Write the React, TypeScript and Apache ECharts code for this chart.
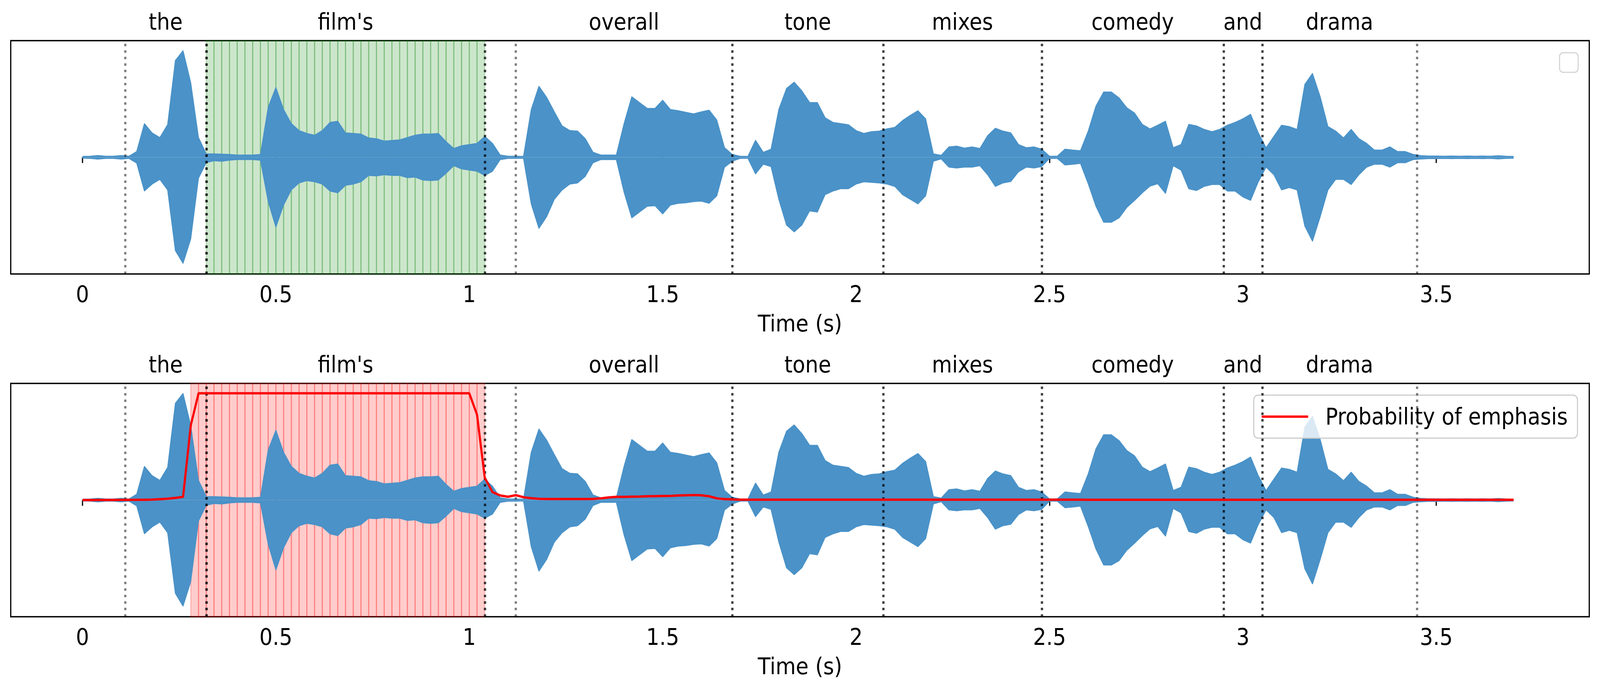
import React, { useEffect, useRef } from "react";
import * as echarts from "echarts";

// ---------- data ----------
const STEP = 0.02; // frame hop (s)

// waveform envelope, one value per 0.02 s frame starting at t = 0
const UPPER = [
  0.008, 0.010, 0.016, 0.010, 0.010, 0.016, 0.010, 0.050, 0.290, 0.210,
  0.170, 0.280, 0.830, 0.915, 0.640, 0.170, 0.030, 0.030, 0.028, 0.025,
  0.020, 0.020, 0.020, 0.025, 0.430, 0.600, 0.410, 0.290, 0.230, 0.205,
  0.190, 0.230, 0.300, 0.310, 0.210, 0.205, 0.200, 0.167, 0.160, 0.140,
  0.145, 0.150, 0.170, 0.190, 0.200, 0.200, 0.205, 0.135, 0.076, 0.100,
  0.110, 0.120, 0.180, 0.120, 0.020, 0.010, 0.010, 0.008, 0.410, 0.610,
  0.515, 0.390, 0.270, 0.230, 0.225, 0.160, 0.044, 0.020, 0.020, 0.020,
  0.290, 0.520, 0.470, 0.420, 0.420, 0.490, 0.410, 0.400, 0.386, 0.373,
  0.390, 0.405, 0.320, 0.083, 0.025, 0.010, 0.008, 0.147, 0.044, 0.070,
  0.410, 0.590, 0.645, 0.570, 0.470, 0.470, 0.340, 0.300, 0.290, 0.280,
  0.230, 0.205, 0.220, 0.225, 0.245, 0.257, 0.315, 0.360, 0.400, 0.330,
  0.030, 0.018, 0.090, 0.096, 0.080, 0.090, 0.076, 0.186, 0.250, 0.225,
  0.210, 0.110, 0.083, 0.090, 0.070, 0.010, 0.010, 0.070, 0.063, 0.057,
  0.225, 0.440, 0.560, 0.560, 0.510, 0.425, 0.380, 0.283, 0.244, 0.276,
  0.310, 0.083, 0.110, 0.283, 0.270, 0.240, 0.220, 0.240, 0.276, 0.300,
  0.330, 0.370, 0.210, 0.083, 0.180, 0.276, 0.264, 0.240, 0.625, 0.720,
  0.520, 0.264, 0.225, 0.167, 0.240, 0.160, 0.120, 0.063, 0.063, 0.090,
  0.050, 0.050, 0.025, 0.015, 0.012, 0.012, 0.010, 0.012, 0.010, 0.012,
  0.010, 0.012, 0.010, 0.014, 0.010, 0.008,
];
const LOWER = [
  -0.008, -0.010, -0.016, -0.010, -0.010, -0.016, -0.010, -0.050, -0.290, -0.230,
  -0.190, -0.280, -0.800, -0.910, -0.700, -0.180, -0.045, -0.030, -0.034, -0.025,
  -0.020, -0.020, -0.020, -0.025, -0.380, -0.600, -0.410, -0.280, -0.220, -0.200,
  -0.210, -0.230, -0.290, -0.305, -0.240, -0.230, -0.210, -0.156, -0.160, -0.150,
  -0.156, -0.156, -0.175, -0.170, -0.195, -0.200, -0.195, -0.137, -0.072, -0.100,
  -0.110, -0.120, -0.156, -0.120, -0.020, -0.010, -0.010, -0.008, -0.400, -0.610,
  -0.510, -0.360, -0.280, -0.230, -0.220, -0.163, -0.047, -0.020, -0.020, -0.020,
  -0.300, -0.520, -0.470, -0.420, -0.415, -0.486, -0.410, -0.395, -0.390, -0.380,
  -0.376, -0.395, -0.330, -0.085, -0.034, -0.010, -0.008, -0.143, -0.060, -0.080,
  -0.360, -0.580, -0.640, -0.580, -0.460, -0.470, -0.320, -0.290, -0.270, -0.270,
  -0.230, -0.210, -0.215, -0.220, -0.230, -0.250, -0.320, -0.360, -0.400, -0.330,
  -0.034, -0.014, -0.085, -0.092, -0.085, -0.085, -0.072, -0.150, -0.250, -0.220,
  -0.208, -0.124, -0.085, -0.092, -0.080, -0.010, -0.010, -0.066, -0.060, -0.053,
  -0.227, -0.420, -0.557, -0.557, -0.520, -0.430, -0.370, -0.305, -0.247, -0.227,
  -0.310, -0.072, -0.110, -0.270, -0.285, -0.250, -0.234, -0.234, -0.290, -0.290,
  -0.340, -0.370, -0.210, -0.085, -0.150, -0.280, -0.260, -0.280, -0.590, -0.720,
  -0.510, -0.280, -0.190, -0.190, -0.234, -0.150, -0.085, -0.060, -0.060, -0.085,
  -0.047, -0.047, -0.020, -0.015, -0.012, -0.012, -0.010, -0.012, -0.010, -0.012,
  -0.010, -0.012, -0.010, -0.014, -0.010, -0.008,
];

// probability of emphasis per 0.02 s frame
const PROB = [
  0.000, 0.000, 0.001, 0.001, 0.001, 0.002, 0.002, 0.003, 0.003, 0.005,
  0.008, 0.013, 0.020, 0.030, 0.700, 1.000, 1.000, 1.000, 1.000, 1.000,
  1.000, 1.000, 1.000, 1.000, 1.000, 1.000, 1.000, 1.000, 1.000, 1.000,
  1.000, 1.000, 1.000, 1.000, 1.000, 1.000, 1.000, 1.000, 1.000, 1.000,
  1.000, 1.000, 1.000, 1.000, 1.000, 1.000, 1.000, 1.000, 1.000, 1.000,
  1.000, 0.800, 0.210, 0.075, 0.043, 0.031, 0.046, 0.027, 0.017, 0.012,
  0.010, 0.010, 0.010, 0.010, 0.010, 0.010, 0.011, 0.016, 0.025, 0.030,
  0.030, 0.032, 0.033, 0.036, 0.037, 0.038, 0.039, 0.043, 0.045, 0.047,
  0.045, 0.036, 0.016, 0.009, 0.006, 0.004, 0.004, 0.004, 0.004, 0.004,
  0.004, 0.004, 0.004, 0.004, 0.004, 0.004, 0.004, 0.004, 0.004, 0.004,
  0.004, 0.004, 0.004, 0.004, 0.004, 0.004, 0.004, 0.004, 0.004, 0.004,
  0.004, 0.004, 0.004, 0.004, 0.004, 0.004, 0.004, 0.004, 0.004, 0.004,
  0.004, 0.004, 0.004, 0.004, 0.004, 0.004, 0.004, 0.004, 0.004, 0.004,
  0.003, 0.003, 0.003, 0.003, 0.003, 0.003, 0.003, 0.003, 0.003, 0.003,
  0.003, 0.003, 0.003, 0.003, 0.003, 0.003, 0.003, 0.003, 0.003, 0.003,
  0.003, 0.003, 0.003, 0.003, 0.003, 0.003, 0.003, 0.003, 0.003, 0.003,
  0.003, 0.003, 0.003, 0.003, 0.003, 0.003, 0.003, 0.003, 0.003, 0.003,
  0.003, 0.003, 0.003, 0.003, 0.003, 0.003, 0.003, 0.003, 0.003, 0.003,
  0.003, 0.003, 0.003, 0.003, 0.003, 0.003,
];

// word alignment (s)
const WORDS = ["the", "film's", "overall", "tone", "mixes", "comedy", "and", "drama"];
const STARTS = [0.11, 0.32, 1.12, 1.68, 2.07, 2.48, 2.95, 3.05];
const ENDS = [0.32, 1.04, 1.68, 2.07, 2.48, 2.95, 3.05, 3.45];
const EMPHASIZED_WORD = 1; // "film's" (ground truth)

const X_TICKS = [0, 0.5, 1, 1.5, 2, 2.5, 3, 3.5];
const X_MIN = -0.1855;
const X_MAX = 3.8955;
const LEGEND_LABEL = "Probability of emphasis";

// ---------- derived ----------
const TIMES = UPPER.map((_, i) => Math.round(i * STEP * 100) / 100);
const MIDS = WORDS.map((_, i) => (STARTS[i] + ENDS[i]) / 2);
const AMP = Math.max(...UPPER, ...LOWER.map((v) => -v));
const GT_FRAMES = TIMES.filter(
  (t) => t >= STARTS[EMPHASIZED_WORD] - 1e-9 && t < ENDS[EMPHASIZED_WORD] - 1e-9
);
const PRED_FRAMES = TIMES.filter((_, i) => PROB[i] > 0.5);

const W = 4470;
const H = 1768;
const FONT = "DejaVu Sans";
const WAVE = "#4a92c8";
const FS = 58;
const LW = 3.33;

function buildOption() {
  const grids = [
    { left: 30, top: 104, width: 4410, height: 597 },
    { left: 30, top: 981, width: 4410, height: 597 },
  ].map((g) => ({
    ...g,
    show: true,
    borderColor: "#000",
    borderWidth: LW,
    backgroundColor: "transparent",
  }));

  const xAxes: any[] = [];
  const yAxes: any[] = [];
  const series: any[] = [];

  [0, 1].forEach((g) => {
    xAxes.push({
      type: "value",
      gridIndex: g,
      min: X_MIN,
      max: X_MAX,
      position: "bottom",
      splitLine: { show: false },
      axisLine: { show: false },
      axisTick: {
        show: true,
        customValues: X_TICKS,
        length: 14.6,
        lineStyle: { color: "#000", width: LW },
      },
      axisLabel: {
        customValues: X_TICKS,
        fontSize: FS,
        fontFamily: FONT,
        color: "#000",
        margin: 23,
        formatter: (v: number) => String(v),
      },
      name: "Time (s)",
      nameLocation: "middle",
      nameGap: 98,
      nameTextStyle: { fontSize: FS, fontFamily: FONT, color: "#000" },
    });
    xAxes.push({
      type: "value",
      gridIndex: g,
      min: X_MIN,
      max: X_MAX,
      position: "top",
      splitLine: { show: false },
      axisLine: { show: false },
      axisTick: { show: false },
      axisLabel: {
        customValues: MIDS,
        fontSize: FS,
        fontFamily: FONT,
        color: "#000",
        margin: 19,
        formatter: (v: number) => {
          const i = MIDS.findIndex((m) => Math.abs(m - v) < 1e-6);
          return i >= 0 ? WORDS[i] : "";
        },
      },
    });
    yAxes.push({
      type: "value",
      gridIndex: g,
      min: -1,
      max: 1,
      show: false,
      splitLine: { show: false },
    });

    const xb = 2 * g;
    // waveform envelope (upper and lower halves filled to zero)
    series.push({
      type: "line",
      name: "wave-upper-" + g,
      xAxisIndex: xb,
      yAxisIndex: g,
      data: TIMES.map((t, i) => [t, UPPER[i]]),
      symbol: "none",
      lineStyle: { color: WAVE, width: 2 },
      areaStyle: { color: WAVE, opacity: 1 },
      z: 2,
      silent: true,
    });
    series.push({
      type: "line",
      name: "wave-lower-" + g,
      xAxisIndex: xb,
      yAxisIndex: g,
      data: TIMES.map((t, i) => [t, LOWER[i]]),
      symbol: "none",
      lineStyle: { color: WAVE, width: 2 },
      areaStyle: { color: WAVE, opacity: 1 },
      z: 2,
      silent: true,
    });

    // highlighted frames
    const frames = g === 0 ? GT_FRAMES : PRED_FRAMES;
    const rgb = g === 0 ? "0,128,0" : "255,0,0";
    series.push({
      type: "line",
      name: "frames-" + g,
      xAxisIndex: xb,
      yAxisIndex: g,
      data: [],
      z: 3,
      silent: true,
      markArea: {
        silent: true,
        itemStyle: {
          color: `rgba(${rgb},0.2)`,
          borderColor: `rgba(${rgb},0.22)`,
          borderWidth: 3,
        },
        data: frames.map((t) => [{ xAxis: t }, { xAxis: Math.round((t + STEP) * 100) / 100 }]),
      },
    });

    // word boundaries (dotted)
    const bounds = [...STARTS, ...ENDS, STARTS[EMPHASIZED_WORD], ENDS[EMPHASIZED_WORD]];
    series.push({
      type: "line",
      name: "bounds-" + g,
      xAxisIndex: xb,
      yAxisIndex: g,
      data: [],
      z: 4,
      silent: true,
      markLine: {
        silent: true,
        symbol: ["none", "none"],
        label: { show: false },
        lineStyle: {
          color: "rgba(0,0,0,0.5)",
          width: 6.25,
          type: [6.25, 10.4],
          cap: "butt",
        },
        emphasis: { disabled: true },
        data: bounds.map((t) => ({ xAxis: t })),
      },
    });
  });

  series.push({
    type: "line",
    name: LEGEND_LABEL,
    xAxisIndex: 2,
    yAxisIndex: 1,
    data: TIMES.map((t, i) => [t, PROB[i] * AMP]),
    symbol: "none",
    color: "#ff0000",
    lineStyle: { color: "#ff0000", width: 6 },
    z: 6,
    silent: true,
  });

  return {
    animation: false,
    backgroundColor: "#ffffff",
    textStyle: { fontFamily: FONT },
    grid: grids,
    xAxis: xAxes,
    yAxis: yAxes,
    series,
    legend: {
      data: [LEGEND_LABEL],
      right: 63,
      top: 1011,
      icon: "rect",
      itemWidth: 130,
      itemHeight: 6,
      selectedMode: false,
      backgroundColor: "rgba(255,255,255,0.8)",
      borderColor: "#cccccc",
      borderWidth: 3,
      borderRadius: 12,
      padding: [22, 27, 22, 22],
      textStyle: {
        fontSize: FS,
        fontFamily: FONT,
        color: "#000",
        lineHeight: 66,
        padding: [0, 0, 0, 43],
      },
    },
    graphic: [
      {
        type: "rect",
        shape: { x: 4357, y: 135, width: 52, height: 50, r: 10 },
        style: { fill: "rgba(255,255,255,0.8)", stroke: "#d4d4d4", lineWidth: 3 },
        z: 10,
        silent: true,
      },
    ],
  };
}

export default function App() {
  const ref = useRef<HTMLDivElement>(null);
  const vw = typeof window !== "undefined" ? window.innerWidth : W;
  const vh = typeof window !== "undefined" ? window.innerHeight : H;
  const sx = vw / W;
  const sy = vh / H;
  useEffect(() => {
    document.body.style.margin = "0";
    document.body.style.overflow = "hidden";
    if (!ref.current) return;
    const chart = echarts.init(ref.current, null, { renderer: "svg" });
    chart.setOption(buildOption() as any);
    return () => chart.dispose();
  }, []);
  return (
    <div
      style={{
        position: "absolute",
        left: 0,
        top: 0,
        width: vw,
        height: vh,
        overflow: "hidden",
        background: "#fff",
      }}
    >
      <div
        ref={ref}
        style={{
          width: W,
          height: H,
          transform: `scale(${sx}, ${sy})`,
          transformOrigin: "0 0",
        }}
      />
    </div>
  );
}
